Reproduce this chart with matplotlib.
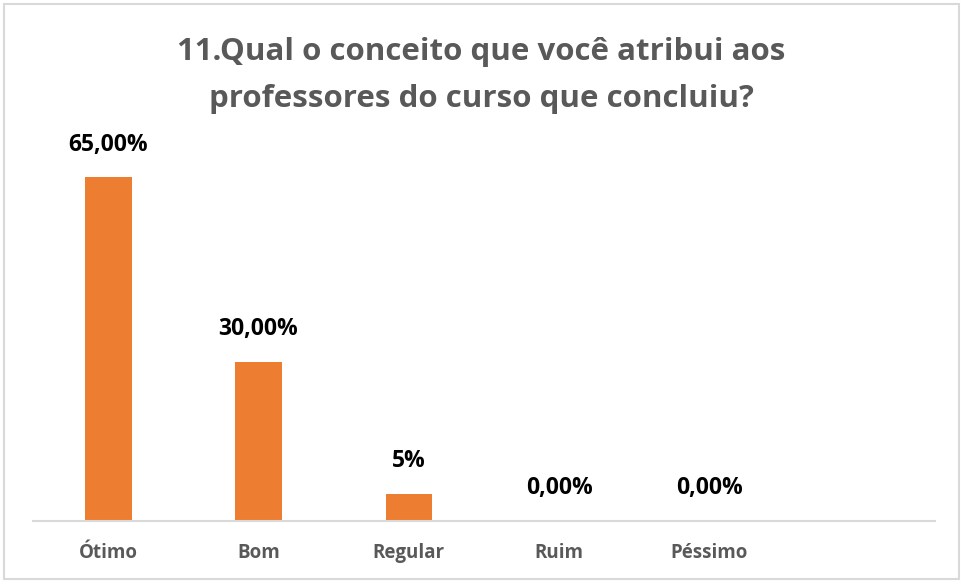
import matplotlib
matplotlib.use("Agg")
import matplotlib.pyplot as plt
from matplotlib.patches import Rectangle

categories = ["Ótimo", "Bom", "Regular", "Ruim", "Péssimo"]
values = [0.65, 0.30, 0.05, 0.0, 0.0]
labels = ["65,00%", "30,00%", "5%", "0,00%", "0,00%"]
title = "11.Qual o conceito que você atribui aos\nprofessores do curso que concluiu?"

FONT = "Open Sans"
ORANGE = "#ED7D31"
GRAY = "#595959"

fig = plt.figure(figsize=(9.63, 5.81), dpi=100)
ax = fig.add_axes([0.0343, 0.104, 0.9367, 0.636])

x = list(range(len(categories)))
ax.bar(x, values, width=0.31, color=ORANGE, zorder=2)

for xi, v, lab in zip(x, values, labels):
    ax.annotate(lab, (xi, v), xytext=(0, 15), textcoords="offset points",
                ha="center", va="bottom", fontsize=16.5, fontweight="bold",
                color="black", family=FONT)

ax.set_xlim(-0.5, 5.5)
ax.set_ylim(0, 0.70)
ax.set_xticks(x)
ax.set_xticklabels(categories, fontsize=13.5, fontweight="bold", color=GRAY, family=FONT)
ax.tick_params(axis="x", length=0, pad=16)
ax.set_yticks([])

for side in ["top", "right", "left"]:
    ax.spines[side].set_visible(False)
ax.spines["bottom"].set_color("#D9D9D9")
ax.spines["bottom"].set_linewidth(1.5)

fig.text(0.5, 0.87, title, ha="center", va="center", fontsize=22.5,
         fontweight="bold", color=GRAY, family=FONT, linespacing=1.75)

# outer chart border
fig.patches.append(Rectangle((0.004, 0.004), 0.992, 0.989, transform=fig.transFigure,
                             fill=False, edgecolor="#D9D9D9", linewidth=1.5))

fig.savefig("out.png", dpi=100)
